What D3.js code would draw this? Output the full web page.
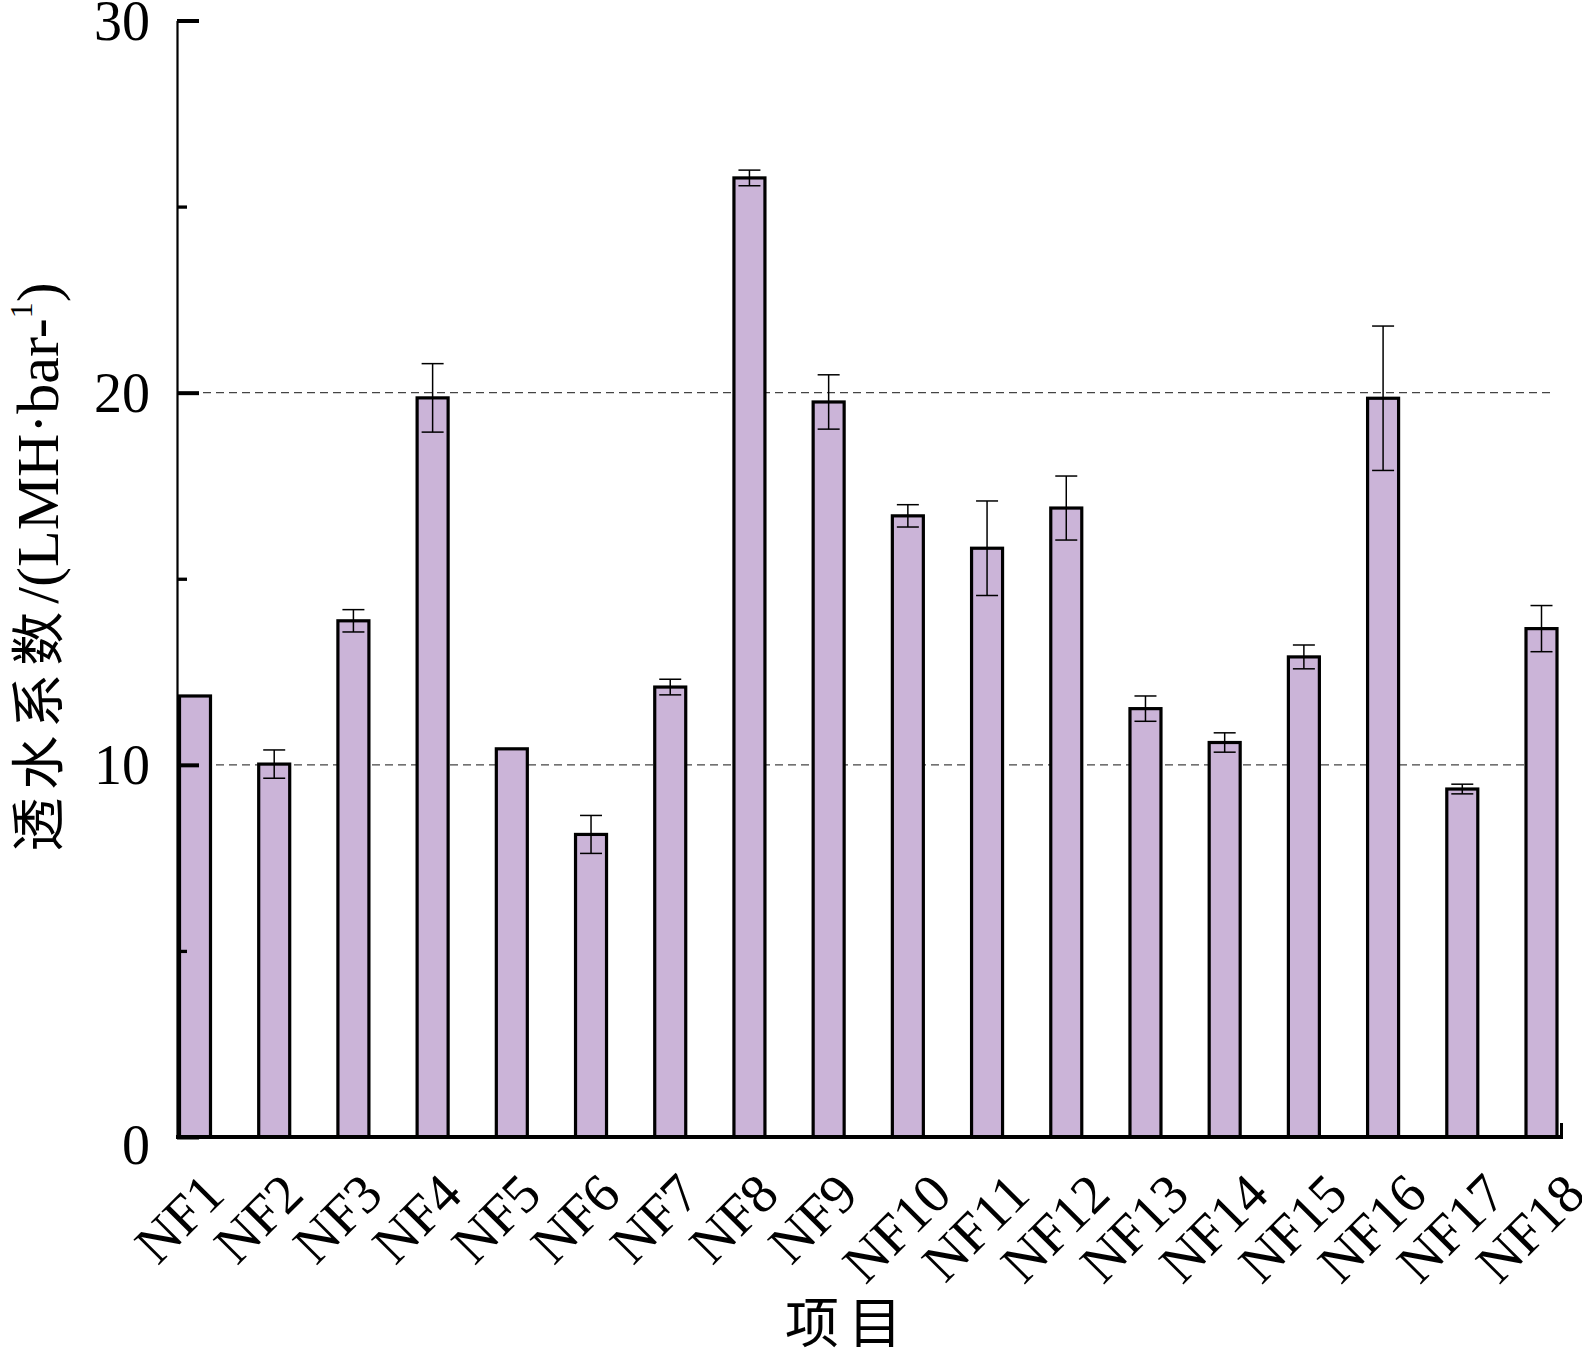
<!DOCTYPE html>
<html>
<head>
<meta charset="utf-8">
<script src="https://cdn.jsdelivr.net/npm/d3@7"></script>
<style>
  html, body { margin: 0; padding: 0; background: #fff; }
  svg { display: block; }
</style>
</head>
<body>
<svg id="chart" width="1582" height="1354"></svg>
<script>
const categories = ["NF1","NF2","NF3","NF4","NF5","NF6","NF7","NF8","NF9","NF10","NF11","NF12","NF13","NF14","NF15","NF16","NF17","NF18"];
const values = [11.85, 10.02, 13.87, 19.86, 10.43, 8.13, 12.09, 25.77, 19.75, 16.69, 15.82, 16.90, 11.51, 10.60, 12.90, 19.85, 9.35, 13.66];
const errors = [0, 0.38, 0.30, 0.92, 0, 0.51, 0.21, 0.21, 0.73, 0.30, 1.27, 0.86, 0.34, 0.26, 0.32, 1.94, 0.13, 0.62];
const majorTicks = [0, 10, 20, 30];
const minorTicks = [5, 15, 25];
const gridValues = [10, 20];
const yTitleCn = "透水系数";
const yTitleEn = "/(LMH·bar-";
const yTitleSup = "1";
const yTitleEnd = ")";
const xTitle = "项目";

const serif = "'Liberation Serif','Times New Roman',serif";
const cjk = "'Noto Sans CJK SC','Noto Sans CJK JP',sans-serif";

const svg = d3.select("#chart");
const axisX = 177, axisRight = 1563;
const y = d3.scaleLinear().domain([0, 30]).range([1137, 20.5]);
const x = d3.scalePoint().domain(categories).range([195, 1541.5]);
const barW = 31;

// gridlines
svg.append("g").selectAll("line").data(gridValues).join("line")
  .attr("x1", axisX).attr("x2", 1553)
  .attr("y1", d => y(d)).attr("y2", d => y(d))
  .attr("stroke", "#444").attr("stroke-width", 1.2)
  .attr("stroke-dasharray", "8,5");

// bars
svg.append("g").selectAll("rect").data(values).join("rect")
  .attr("x", (d, i) => x(categories[i]) - barW / 2)
  .attr("y", d => y(d))
  .attr("width", barW)
  .attr("height", d => y(0) - y(d))
  .attr("fill", "#cbb4d8")
  .attr("stroke", "#000")
  .attr("stroke-width", 3.2);

// error bars
const eg = svg.append("g").attr("stroke", "#000").attr("stroke-width", 1.5);
values.forEach((v, i) => {
  const e = errors[i];
  if (!e) return;
  const cx = x(categories[i]);
  eg.append("line").attr("x1", cx).attr("x2", cx).attr("y1", y(v + e)).attr("y2", y(v - e));
  eg.append("line").attr("x1", cx - 11).attr("x2", cx + 11).attr("y1", y(v + e)).attr("y2", y(v + e));
  eg.append("line").attr("x1", cx - 11).attr("x2", cx + 11).attr("y1", y(v - e)).attr("y2", y(v - e));
});

// y axis (major)
const yAxis = d3.axisLeft(y).tickValues(majorTicks).tickSize(-22).tickSizeOuter(0).tickPadding(27)
  .tickFormat(d3.format("d"));
const gy = svg.append("g").attr("transform", `translate(${axisX},0)`).call(yAxis);
gy.select(".domain").attr("stroke-width", 2.2);
gy.selectAll(".tick line").attr("stroke-width", 4);
gy.selectAll(".tick text")
  .attr("font-family", serif).attr("font-size", 56).attr("fill", "#000")
  .attr("dy", d => d === 0 ? "0.48em" : "0.34em");

// y axis (minor)
const yMinor = d3.axisLeft(y).tickValues(minorTicks).tickSize(-10).tickSizeOuter(0).tickFormat("");
const gym = svg.append("g").attr("transform", `translate(${axisX},0)`).call(yMinor);
gym.select(".domain").remove();
gym.selectAll(".tick line").attr("stroke-width", 3.3);

// x axis line
svg.append("line").attr("x1", axisX - 1).attr("x2", axisRight)
  .attr("y1", y(0)).attr("y2", y(0))
  .attr("stroke", "#000").attr("stroke-width", 4);
svg.append("line").attr("x1", axisRight - 1.5).attr("x2", axisRight - 1.5)
  .attr("y1", y(0)).attr("y2", y(0) - 14)
  .attr("stroke", "#000").attr("stroke-width", 3);

// x tick labels (rotated)
const lg = svg.append("g");
categories.forEach(c => {
  const t = lg.append("text")
    .attr("font-family", serif).attr("font-size", 55)
    .attr("text-anchor", "end").attr("fill", "#000")
    .text(c);
  const L = t.node().getComputedTextLength();
  t.attr("transform", `translate(${x(c) - 19 + 0.52 * L},1197) rotate(-45)`);
});

// y title
const yt = svg.append("text")
  .attr("transform", "translate(58,567) rotate(-90)")
  .attr("text-anchor", "middle").attr("fill", "#000");
yt.append("tspan").attr("font-family", cjk).attr("font-size", 54).attr("letter-spacing", 8).text(yTitleCn);
yt.append("tspan").attr("font-family", serif).attr("font-size", 60).text(yTitleEn);
yt.append("tspan").attr("font-family", serif).attr("font-size", 32).attr("dy", "-0.8em").text(yTitleSup);
yt.append("tspan").attr("font-family", serif).attr("font-size", 60).attr("dy", "0.43em").text(yTitleEnd);

// x title
svg.append("text")
  .attr("x", 848).attr("y", 1343)
  .attr("text-anchor", "middle")
  .attr("font-family", cjk).attr("font-size", 54).attr("letter-spacing", 9)
  .attr("fill", "#000").text(xTitle);
</script>
</body>
</html>
